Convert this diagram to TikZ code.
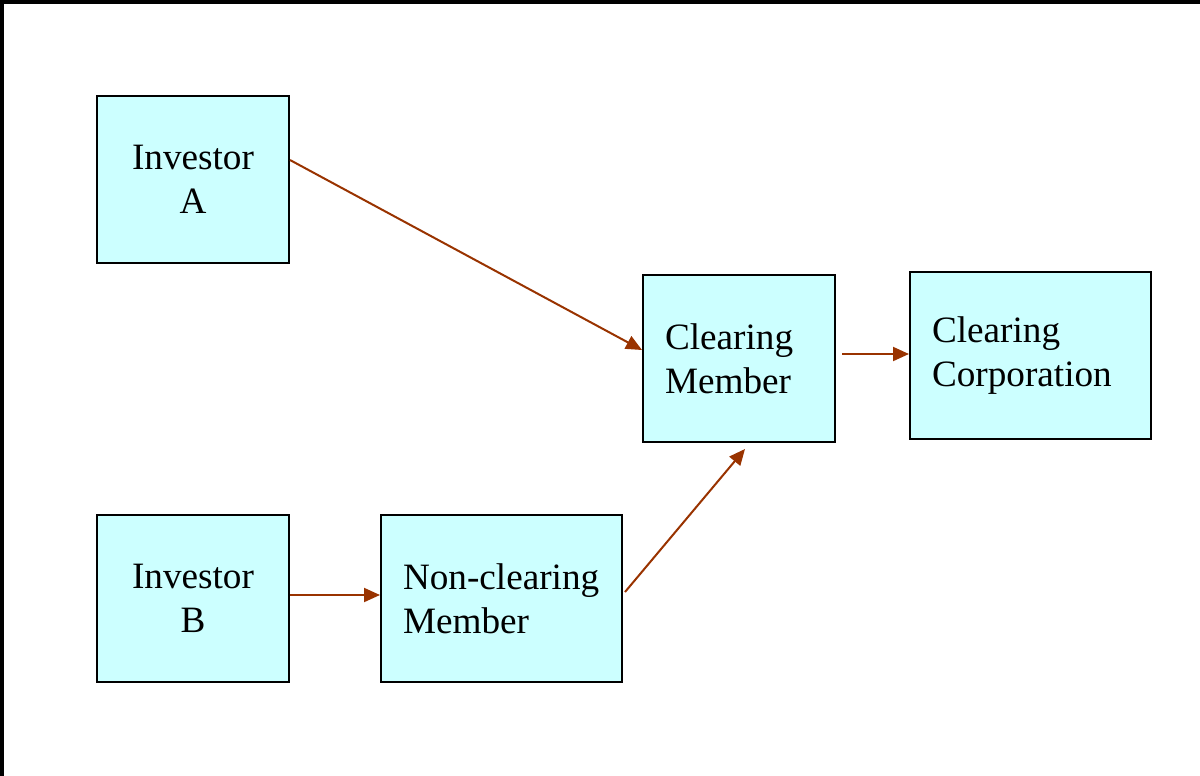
\documentclass[tikz,border=0pt]{standalone}
\usepackage{fontspec}
\setmainfont{Liberation Serif}
\usetikzlibrary{arrows.meta}
\definecolor{hop}{HTML}{CCFFFF}
\definecolor{mui}{HTML}{993300}
\begin{document}
\begin{tikzpicture}[x=1pt,y=1pt]
\tikzset{s/.style={draw=black,line width=1pt,fill=hop,rectangle,minimum height=83.5pt,
font=\fontsize{18.6}{22}\selectfont,align=center},
t/.style={s,align=left,inner xsep=11pt,text width=#1}}
\useasboundingbox(0,0)rectangle(600,-388);
\draw[line width=1.75pt](0.9,-388)--(0.9,-0.9)--(600,-0.9);
\path(96.5,-89.75)node[s,minimum width=96pt](IA){Investor\\A}
(96.5,-299.25)node[s,minimum width=96pt](IB){Investor\\B}
(250.75,-299.25)node[t=98.5pt](NC){Non-clearing\\Member}
(369.5,-179.25)node[t=74pt](CM){Clearing\\Member}
(515.25,-177.75)node[t=98.5pt](CC){Clearing\\Corporation};
\foreach \x/\p/\y/\q in {
IA.east/{0,9.75}/CM.west/{0,4.25},
CM.east/{3,2.25}/CC.west/{0,0.75},
IB.east/{0,1.75}/NC.west/{0,1.75},
NC.east/{1,3.25}/CM.south/{3,-3}}
\draw[-{Triangle[length=8pt,width=7pt]},draw=mui,fill=mui,line width=1pt]([shift={(\p)}]\x)--([shift={(\q)}]\y);
\end{tikzpicture}
\end{document}
